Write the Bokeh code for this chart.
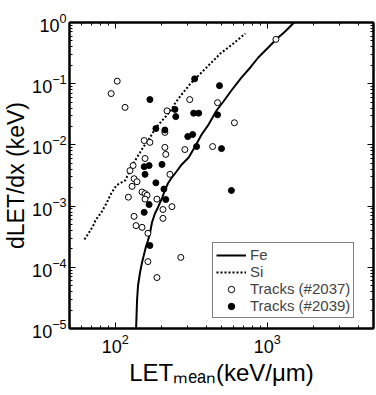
from bokeh.plotting import figure
from bokeh.models import (Range1d, LogAxis, FixedTicker, Legend, LegendItem,
                          CustomJSTickFormatter)
from bokeh.embed import file_html
from bokeh.resources import INLINE

# ---- data ----
fe_x = [137.0, 139.1, 141.2, 145.5, 150.0, 154.6, 159.3, 164.1, 169.1, 174.4, 182.4,
        190.9, 202.8, 211.9, 221.9, 235.6, 250.2, 274, 304, 338, 370, 411, 464, 515,
        581, 676, 774, 873, 1000, 1143, 1310, 1479, 1546]
fe_y = [9.3e-6, 2.87e-5, 5.04e-5, 8.2e-5, 1.2e-4, 1.62e-4, 2.19e-4, 2.74e-4, 3.56e-4,
        5.4e-4, 7.57e-4, 9.5e-4, 1.33e-3, 1.80e-3, 2.34e-3, 2.93e-3, 3.54e-3, 4.79e-3,
        6.22e-3, 9.78e-3, 0.0148, 0.0215, 0.0365, 0.0512, 0.0774, 0.126, 0.184, 0.268,
        0.376, 0.527, 0.713, 0.96, 1.12]

si_x = [62.7, 66.5, 68.6, 72.8, 73.9, 80.9, 87.3, 94.1, 101.4, 116.1, 125.2, 135.0,
        145.5, 152.3, 169.1, 185.2, 212, 232, 247, 270, 313, 381, 492, 599, 718]
si_y = [2.85e-4, 3.56e-4, 3.99e-4, 5.2e-4, 5.82e-4, 7.86e-4, 1.10e-3, 1.61e-3, 2.17e-3,
        2.62e-3, 3.82e-3, 5.56e-3, 7.52e-3, 9.07e-3, 0.0132, 0.0192, 0.028, 0.0365,
        0.0475, 0.0641, 0.1007, 0.164, 0.311, 0.454, 0.661]

t2037_x = [103, 94, 116, 219, 155, 169, 212, 212, 215, 157, 131, 125, 133, 139, 129,
           229, 122, 150, 157, 162, 157, 188, 206, 133, 206, 137, 150, 164, 164, 188,
           270, 236, 287, 309, 471, 608, 437, 1140]
t2037_y = [0.11, 0.069, 0.041, 0.036, 0.0118, 0.011, 0.016, 0.0091, 0.007, 0.006,
           0.0046, 0.0038, 0.0028, 0.0025, 0.0021, 0.0033, 0.0014, 0.0017, 0.0016,
           0.0015, 0.0013, 0.0013, 0.00088, 0.00068, 0.00063, 0.00048, 0.00045,
           0.00036, 0.000124, 0.000068, 0.000145, 0.00098, 0.0084, 0.055, 0.049,
           0.023, 0.0094, 0.53]

t2039_x = [169, 247, 250, 185, 212, 300, 155, 167, 203, 157, 185, 209, 215, 167, 155,
           169, 333, 485, 328, 354, 471, 323, 343, 500, 581]
t2039_y = [0.055, 0.038, 0.029, 0.0185, 0.0175, 0.0137, 0.0044, 0.0046, 0.0048, 0.0033,
           0.0024, 0.0019, 0.00128, 0.00106, 0.00079, 0.000227, 0.12, 0.093, 0.033,
           0.033, 0.031, 0.0148, 0.0094, 0.0087, 0.0018]

x_decades = [1, 2, 3, 4]
y_decades = [-5, -4, -3, -2, -1, 0]

FONT = "Liberation Sans"

x_major = [10.0 ** d for d in x_decades]
x_minor = [m * 10.0 ** d for d in x_decades for m in range(2, 10)]
y_major = [10.0 ** d for d in y_decades]
y_minor = [m * 10.0 ** d for d in y_decades for m in range(2, 10)]

p = figure(width=376, height=395, x_axis_type="log", y_axis_type="log",
           x_range=Range1d(50, 5000), y_range=Range1d(1e-5, 1),
           output_backend="svg", toolbar_location=None,
           min_border_left=68, min_border_right=3, min_border_top=22,
           min_border_bottom=67)
p.background_fill_color = "white"
p.border_fill_color = "white"
p.xgrid.visible = False
p.ygrid.visible = False
p.outline_line_color = "black"
p.outline_line_width = 2


def style_axis(ax, major, minor, show_labels):
    ax.ticker = FixedTicker(ticks=major, minor_ticks=minor)
    ax.axis_line_width = 2
    ax.axis_line_color = "black"
    ax.major_tick_in = 6
    ax.major_tick_out = 0
    ax.minor_tick_in = 3
    ax.minor_tick_out = 0
    ax.major_tick_line_width = 1
    ax.minor_tick_line_width = 1
    ax.major_label_text_font = FONT
    ax.major_label_text_font_size = "18px"
    ax.major_label_text_color = "black"
    ax.major_label_standoff = 5
    ax.axis_label_text_font = FONT
    ax.axis_label_text_font_size = "23px"
    ax.axis_label_text_font_style = "normal"
    ax.axis_label_text_color = "black"
    if not show_labels:
        ax.formatter = CustomJSTickFormatter(code="return ''")
        ax.major_label_text_font_size = "1px"
        ax.major_label_standoff = 0


style_axis(p.xaxis[0], x_major, x_minor, True)
style_axis(p.yaxis[0], y_major, y_minor, True)
p.xaxis[0].axis_label = "LET\u2098\u2091\u2090\u2099(keV/\u03bcm)"
p.xaxis[0].axis_label_text_font_size = "24px"
p.xaxis[0].axis_label_standoff = 3
p.yaxis[0].axis_label = "dLET/dx (keV)"
p.yaxis[0].axis_label_standoff = 0
p.yaxis[0].major_label_standoff = 3

top = LogAxis()
right = LogAxis()
style_axis(top, x_major, x_minor, False)
style_axis(right, y_major, y_minor, False)
p.add_layout(top, "above")
p.add_layout(right, "right")

r_fe = p.line(fe_x, fe_y, line_color="black", line_width=2)
r_si = p.line(si_x, si_y, line_color="black", line_width=2, line_dash="2 2")
r_o = p.scatter(t2037_x, t2037_y, marker="circle", size=6, fill_color="white",
                line_color="black", line_width=1)
r_f = p.scatter(t2039_x, t2039_y, marker="circle", size=6, fill_color="black",
                line_color="black", line_width=1)

legend = Legend(items=[LegendItem(label="Fe", renderers=[r_fe]),
                       LegendItem(label="Si", renderers=[r_si]),
                       LegendItem(label="Tracks (#2037)", renderers=[r_o]),
                       LegendItem(label="Tracks (#2039)", renderers=[r_f])],
                location=(143, 10))
legend.label_text_font = FONT
legend.label_text_font_size = "15px"
legend.label_height = 16
legend.glyph_height = 16
legend.glyph_width = 30
legend.label_standoff = 4
legend.spacing = 0
legend.padding = 3
legend.margin = 0
legend.border_line_color = "black"
legend.border_line_width = 1
legend.background_fill_color = "white"
legend.background_fill_alpha = 1
p.add_layout(legend)

open("out.html", "w").write(file_html(p, INLINE))
